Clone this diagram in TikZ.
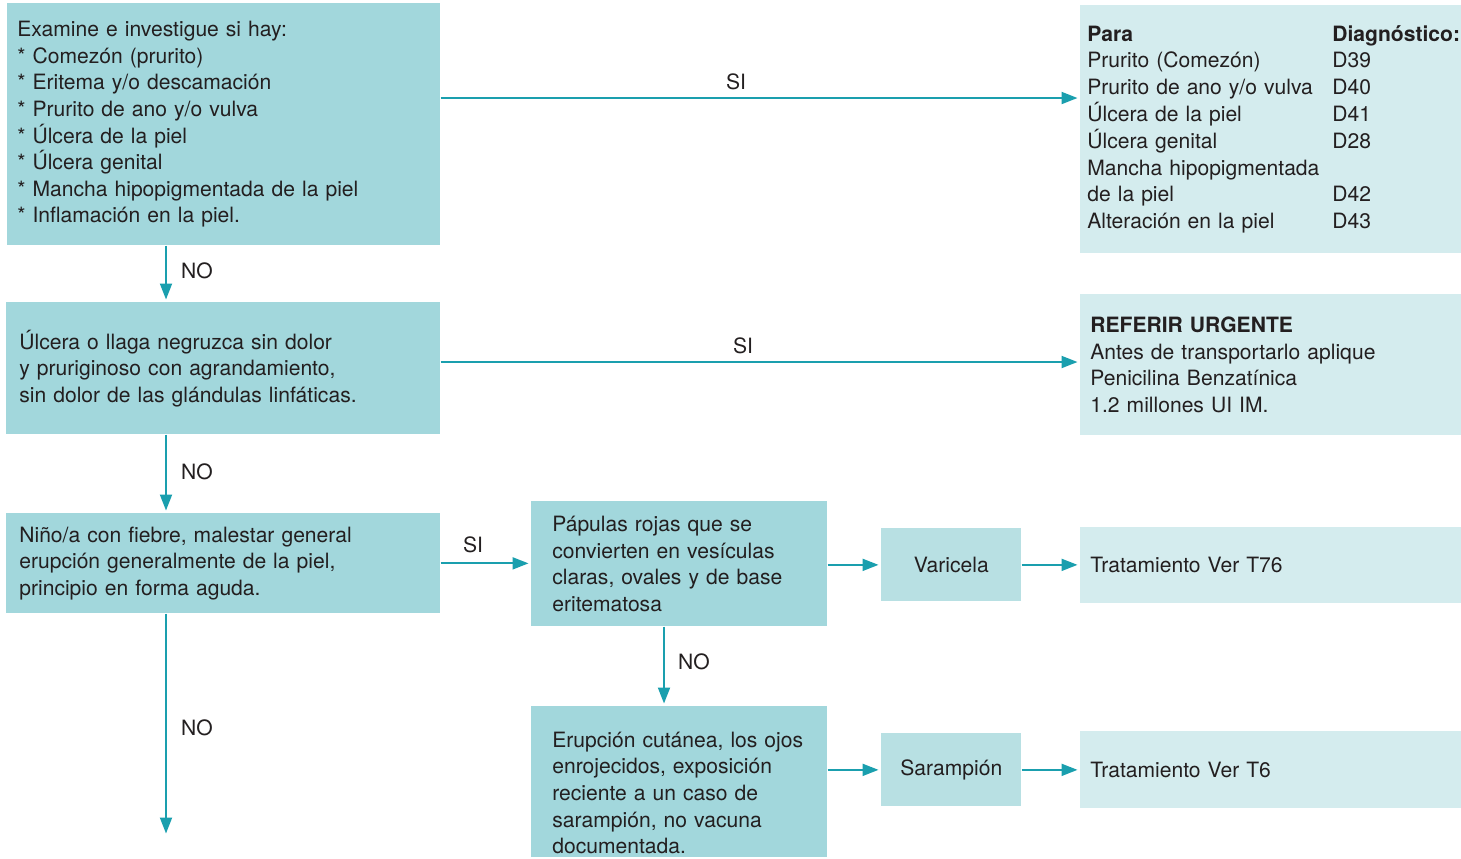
\documentclass[tikz,border=0pt]{standalone}
\usepackage{fontspec}
\setmainfont{TeX Gyre Heros}
\usepackage{xcolor}
\definecolor{boxmid}{RGB}{162,215,220}
\definecolor{boxdx}{RGB}{184,224,227}
\definecolor{boxlight}{RGB}{212,236,238}
\definecolor{arrteal}{RGB}{26,159,174}
\definecolor{txtdark}{RGB}{35,31,32}
\usetikzlibrary{arrows.meta,positioning}

\begin{document}
\begin{tikzpicture}[every node/.style={font=\fontsize{12}{15.1}\selectfont, text=txtdark},
  bx/.style={anchor=north west, fill=boxmid, align=left, inner ysep=0pt},
  dx/.style={anchor=north west, fill=boxdx, align=center, minimum width=2.8cm, minimum height=1.46cm},
  arr/.style={draw=arrteal, line width=1.1pt, -{Triangle[length=0.32cm, width=0.24cm]}, shorten >=0.05cm}]
\useasboundingbox (0,0) rectangle (29.22,-17.16);
% Left column
\node[bx, inner xsep=0.2cm, text width=8.26cm, minimum height=4.84cm] (exam) at (0.14,-0.06) {Examine e investigue si hay:\\{*} Comezón (prurito)\\{*} Eritema y/o descamación\\{*} Prurito de ano y/o vulva\\{*} Úlcera de la piel\\{*} Úlcera genital\\{*} Mancha hipopigmentada de la piel\\{*} Inflamación en la piel.};
\node[bx, inner xsep=0.26cm, text width=8.16cm, minimum height=2.64cm] (ulcera) at (0.12,-6.04) {Úlcera o llaga negruzca sin dolor\\y pruriginoso con agrandamiento,\\sin dolor de las glándulas linfáticas.};
\node[bx, inner xsep=0.26cm, text width=8.16cm, minimum height=2.0cm] (fiebre) at (0.12,-10.26) {Niño/a con fiebre, malestar general\\erupción generalmente de la piel,\\principio en forma aguda.};
% Middle column
\node[bx, inner xsep=0.42cm, text width=5.08cm, minimum height=2.5cm] (papulas) at (10.62,-10.02) {Pápulas rojas que se\\convierten en vesículas\\claras, ovales y de base\\eritematosa};
\node[bx, inner xsep=0.42cm, text width=5.08cm, minimum height=3.02cm] (erupcion) at (10.62,-14.12) {\rule{0pt}{0.75cm}Erupción cutánea, los ojos\\enrojecidos, exposición\\reciente a un caso de\\sarampión, no vacuna\\documentada.};
\node[dx] (varicela) at (17.62,-10.56) {Varicela};
\node[dx] (sarampion) at (17.62,-14.66) {Sarampión};
% Right column
\node[bx, fill=boxlight, inner xsep=0.14cm, text width=7.34cm, minimum height=4.96cm] (diag) at (21.6,-0.1) {\begin{tabular}{@{}p{4.9cm}@{}l@{}}
\textbf{Para} & \textbf{Diagnóstico:}\\
Prurito (Comezón) & D39\\
Prurito de ano y/o vulva & D40\\
Úlcera de la piel & D41\\
Úlcera genital & D28\\
Mancha hipopigmentada & \\
de la piel & D42\\
Alteración en la piel & D43
\end{tabular}};
\node[bx, fill=boxlight, inner xsep=0.2cm, text width=7.22cm, minimum height=2.82cm] (referir) at (21.6,-5.88) {\textbf{REFERIR URGENTE}\\Antes de transportarlo aplique\\Penicilina Benzatínica\\1.2 millones UI IM.};
\node[bx, fill=boxlight, inner xsep=0.2cm, text width=7.22cm, minimum height=1.52cm] (trat76) at (21.6,-10.54) {Tratamiento Ver T76};
\node[bx, fill=boxlight, inner xsep=0.2cm, text width=7.22cm, minimum height=1.54cm] (trat6) at (21.6,-14.62) {Tratamiento Ver T6};
\coordinate (fin) at (3.32,-16.72);
% Arrows
\draw[arr] (exam.east |- 0,-1.96) -- (diag.west |- 0,-1.96);
\draw[arr] (exam.south -| fin) -- (ulcera.north -| fin);
\draw[arr] (ulcera.east |- 0,-7.24) -- (referir.west |- 0,-7.24);
\draw[arr] (ulcera.south -| fin) -- (fiebre.north -| fin);
\draw[arr] (fiebre.east) -- (papulas.west |- fiebre.east);
\draw[arr] (fiebre.south -| fin) -- (fin);
\draw[arr] (papulas.east |- varicela.west) -- (varicela.west);
\draw[arr] (varicela) -- (trat76.west |- varicela.east);
\draw[arr] (papulas.south -| 13.28,0) -- (erupcion.north -| 13.28,0);
\draw[arr] (erupcion.east |- sarampion.west) -- (sarampion.west);
\draw[arr] (sarampion) -- (trat6.west |- sarampion.east);
% Labels
\node (si1) at (14.72,-1.64) {SI};
\node (si2) at (14.86,-6.92) {SI};
\node (si3) at (9.46,-10.9) {SI};
\node (no1) at (3.94,-5.42) {NO};
\node (no2) at (3.94,-9.44) {NO};
\node (no3) at (13.88,-13.24) {NO};
\node (no4) at (3.94,-14.56) {NO};
\end{tikzpicture}
\end{document}
